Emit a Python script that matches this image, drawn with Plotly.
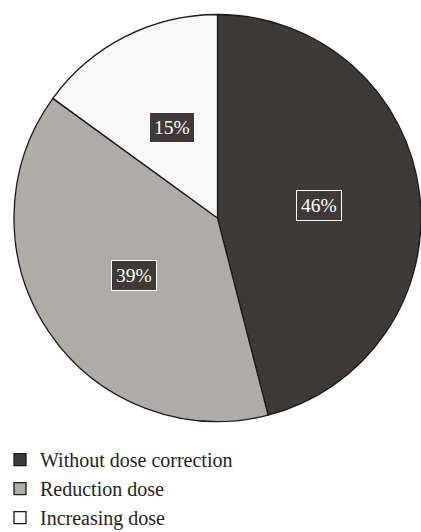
import math
import plotly.graph_objects as go

# Share of patients by dose adjustment
categories = ["Without dose correction", "Reduction dose", "Increasing dose"]
shares = [46, 39, 15]
colors = ["#3e3a37", "#afaba7", "#f8f8f8"]
label_bg = "#3e3a37"

W, H = 421, 532
ML, MT = 14, 14
R = 204  # pie radius in px
plot_w, plot_h = W - ML, H - MT
dom_y0 = 1 - 2 * R / plot_h

fig = go.Figure(
    go.Pie(
        labels=categories,
        values=shares,
        sort=False,
        direction="clockwise",
        rotation=0,
        marker=dict(colors=colors, line=dict(color="#1a1a1a", width=1.3)),
        textinfo="none",
        hoverinfo="label+percent",
        domain=dict(x=[0, min(1, 2 * R / plot_w)], y=[dom_y0, 1]),
    )
)

# Boxed percentage labels at half the radius along each slice's mid-angle
# (paper coordinates are relative to the area inside the margins)
total = sum(shares)
start = 0.0
for v in shares:
    mid = (start + v / 2) / total * 2 * math.pi
    start += v
    dx = 0.5 * R * math.sin(mid)
    dy = 0.5 * R * math.cos(mid)
    fig.add_annotation(
        x=(R + dx) / plot_w, y=1 - (R - dy) / plot_h,
        xref="paper", yref="paper", xanchor="center", yanchor="middle",
        text=f"{v}%", showarrow=False,
        font=dict(family="Liberation Serif", size=19.5, color="white"),
        bgcolor=label_bg, bordercolor="white", borderwidth=1, borderpad=4,
    )

fig.update_layout(
    width=W, height=H,
    margin=dict(l=ML, r=0, t=MT, b=0, pad=0, autoexpand=False),
    paper_bgcolor="white", plot_bgcolor="white",
    showlegend=True,
    legend=dict(
        x=-ML / plot_w, y=-0.01, xanchor="left", yanchor="bottom",
        font=dict(family="Liberation Serif", size=20, color="#231f20"),
        tracegroupgap=0, itemclick=False,
    ),
)

fig.write_html("out.html")
